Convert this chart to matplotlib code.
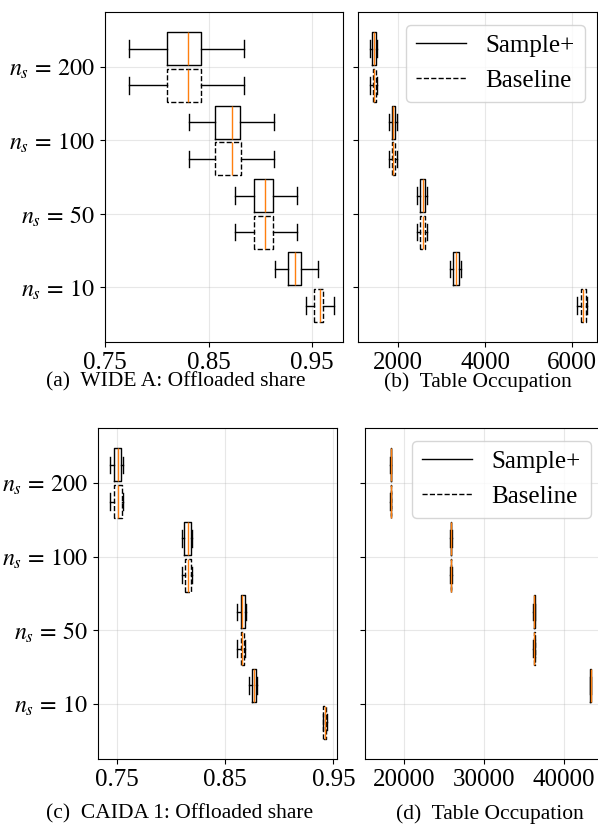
"""
plot.py — Boxplots Sample+ vs Baseline (offloaded share / table occupation).
"""

import matplotlib
matplotlib.use("Agg")
import matplotlib.pyplot as plt
from matplotlib.lines import Line2D

plt.rcParams["font.family"] = ["Liberation Serif", "DejaVu Serif"]
plt.rcParams["mathtext.fontset"] = "stix"

# ---------------------------------------------------------------------------
# Datos: whislo, q1, med, q3, whishi por n_s
# ---------------------------------------------------------------------------
NS_LABELS = [r"$n_s \,=\, 200$", r"$n_s \,=\, 100$", r"$n_s \,=\, 50$", r"$n_s \,=\, 10$"]
NS_POS = [3, 2, 1, 0]

# (a) WIDE A: Offloaded share
wide_share_sample = [
    [0.7726, 0.8095, 0.8295, 0.8421, 0.8838],
    [0.8308, 0.8557, 0.8725, 0.8805, 0.9128],
    [0.8757, 0.8941, 0.9041, 0.9119, 0.9351],
    [0.9138, 0.9264, 0.9335, 0.9390, 0.9558],
]
wide_share_base = [
    [0.7726, 0.8097, 0.8295, 0.8421, 0.8838],
    [0.8308, 0.8560, 0.8725, 0.8808, 0.9128],
    [0.8757, 0.8941, 0.9041, 0.9119, 0.9351],
    [0.9439, 0.9519, 0.9571, 0.9600, 0.9710],
]

# (b) WIDE A: Table occupation
wide_occ_sample = [
    [1345, 1400, 1440, 1478, 1516],
    [1792, 1846, 1885, 1923, 1963],
    [2424, 2500, 2562, 2623, 2653],
    [3190, 3268, 3330, 3393, 3437],
]
wide_occ_base = [
    [1345, 1405, 1440, 1480, 1515],
    [1790, 1848, 1885, 1925, 1963],
    [2424, 2500, 2562, 2620, 2653],
    [6117, 6210, 6255, 6330, 6356],
]

# (c) CAIDA 1: Offloaded share
caida_share_sample = [
    [0.7432, 0.7469, 0.7509, 0.7537, 0.7550],
    [0.8096, 0.8120, 0.8150, 0.8182, 0.8190],
    [0.8611, 0.8642, 0.8657, 0.8682, 0.8690],
    [0.8722, 0.8750, 0.8766, 0.8784, 0.8790],
]
caida_share_base = [
    [0.7432, 0.7470, 0.7510, 0.7540, 0.7550],
    [0.8096, 0.8127, 0.8155, 0.8180, 0.8190],
    [0.8611, 0.8642, 0.8657, 0.8676, 0.8685],
    [0.9400, 0.9408, 0.9424, 0.9434, 0.9440],
]

# (d) CAIDA 1: Table occupation (baseline n_s=10 queda fuera del recorte)
caida_occ_sample = [
    [18250, 18270, 18290, 18310, 18330],
    [25780, 25820, 25860, 25900, 25940],
    [36180, 36240, 36300, 36340, 36400],
    [43280, 43300, 43330, 43360, 43380],
]
caida_occ_base = [
    [18250, 18270, 18290, 18310, 18330],
    [25780, 25820, 25860, 25900, 25940],
    [36180, 36240, 36300, 36340, 36400],
    [79600, 79800, 79950, 80050, 80200],
]

CAPTIONS = ["(a)  WIDE A: Offloaded share", "(b)  Table Occupation",
            "(c)  CAIDA 1: Offloaded share", "(d)  Table Occupation"]

FS = 18
FS_Y = 17.3
MEDIAN_COLOR = "#ff7f0e"


def a_stats(filas):
    claves = ["whislo", "q1", "med", "q3", "whishi"]
    return [dict(zip(claves, f)) for f in filas]


# ---------------------------------------------------------------------------
# Un panel con los dos métodos
# ---------------------------------------------------------------------------
def panel(ax, sample, base, xlim, xticks, etiquetas=True):
    ax.set_axisbelow(True)
    ax.grid(True, alpha=0.3)
    for datos, off, ls in [(sample, 0.25, "-"), (base, -0.25, "--")]:
        ax.bxp(a_stats(datos), positions=[p + off for p in NS_POS],
               widths=0.45, orientation="horizontal", showfliers=False,
               boxprops=dict(color="k", linestyle=ls),
               whiskerprops=dict(color="k"), capprops=dict(color="k"),
               medianprops=dict(color=MEDIAN_COLOR))
    ax.set_ylim(-0.75, 3.75)
    ax.set_yticks(NS_POS)
    ax.set_yticklabels(NS_LABELS if etiquetas else [])
    ax.set_xlim(*xlim)
    ax.set_xticks(xticks)
    ax.tick_params(axis="x", labelsize=FS)
    ax.tick_params(axis="y", labelsize=FS_Y)


def leyenda(ax):
    handles = [Line2D([], [], color="k", linestyle="-", linewidth=1),
               Line2D([], [], color="k", linestyle="--", linewidth=1)]
    ax.legend(handles, ["Sample+", "Baseline"], loc="upper right", fontsize=FS)


fig = plt.figure(figsize=(5.98, 8.25), dpi=100)
W, H = 598.0, 825.0


def ejes(x0, x1, y0, y1):
    return fig.add_axes([x0 / W, 1 - y1 / H, (x1 - x0) / W, (y1 - y0) / H])


ax_a = ejes(105.3, 343.3, 12, 342.3)
ax_b = ejes(358.3, 597.3, 12, 342.3)
ax_c = ejes(98.3, 336.7, 428, 759)
ax_d = ejes(365, 603.4, 428, 759)

panel(ax_a, wide_share_sample, wide_share_base, (0.75, 0.98), [0.75, 0.85, 0.95])
panel(ax_b, wide_occ_sample, wide_occ_base, (1077, 6590), [2000, 4000, 6000], False)
panel(ax_c, caida_share_sample, caida_share_base, (0.7324, 0.9531), [0.75, 0.85, 0.95])
panel(ax_d, caida_occ_sample, caida_occ_base, (15069, 44940), [20000, 30000, 40000], False)
ax_a.set_xticklabels(["0.75", "0.85", "0.95"])
ax_c.set_xticklabels(["0.75", "0.85", "0.95"])
leyenda(ax_b)
leyenda(ax_d)

for (x, y), txt in zip([(176, 382), (478, 382), (180, 814), (490, 814)], CAPTIONS):
    fig.text(x / W, 1 - y / H, txt, fontsize=15.5, ha="center", va="center")

fig.savefig("out.png", dpi=100)
